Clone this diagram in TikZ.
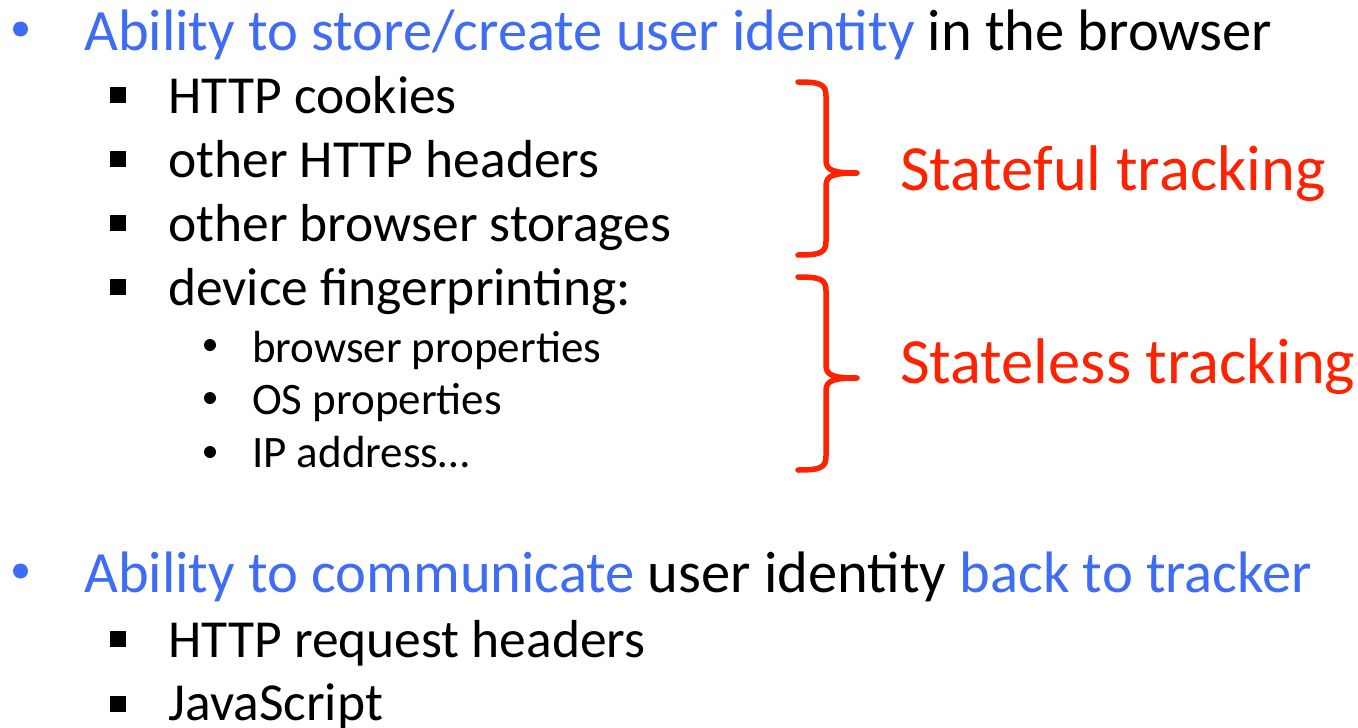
\documentclass[tikz,border=0pt]{standalone}
\usepackage{fontspec}
\setmainfont{Carlito}
\definecolor{hlblue}{HTML}{3F6CF4}
\definecolor{bracered}{HTML}{FF2200}
\tikzset{
  lvlone/.style={anchor=base west, inner sep=0pt, font=\fontsize{58.5}{64}\selectfont},
  lvltwo/.style={anchor=base west, inner sep=0pt, font=\fontsize{53.5}{58}\selectfont},
  lvlthree/.style={anchor=base west, inner sep=0pt, font=\fontsize{45}{50}\selectfont},
  tag/.style={anchor=base west, inner sep=0pt, text=bracered, font=\fontsize{64.5}{70}\selectfont},
  dotone/.style={circle, fill=hlblue, inner sep=0pt, minimum size=15pt},
  sqtwo/.style={rectangle, fill=black, inner sep=0pt, minimum size=16pt},
  dotthree/.style={circle, fill=black, inner sep=0pt, minimum size=12pt},
  brace/.style={draw=bracered, line width=5.5pt, line cap=round, line join=round}
}
\begin{document}
\begin{tikzpicture}[x=1pt, y=-1pt]
\useasboundingbox (0,0) rectangle (1358,728);

% first group: storing identity
\node[dotone] (b1) at (20.5,29) {};
\node[lvlone] (t1) at (84,50) {\textcolor{hlblue}{Ability to store/create user identity} in the browser};

\node[sqtwo] (s1) at (118,95) {};
\node[lvltwo] (cookies) at (168,113) {HTTP cookies};
\node[sqtwo] (s2) at (118,159) {};
\node[lvltwo] (headers) at (168,177) {other HTTP headers};
\node[sqtwo] (s3) at (118,223) {};
\node[lvltwo] (storages) at (168,241) {other browser storages};
\node[sqtwo] (s4) at (118,287) {};
\node[lvltwo] (finger) at (168,305) {device fingerprinting:};

\node[dotthree] (d1) at (210,345) {};
\node[lvlthree] (bprop) at (252,362) {browser properties};
\node[dotthree] (d2) at (210,398) {};
\node[lvlthree] (osprop) at (252,414) {OS properties};
\node[dotthree] (d3) at (210,452) {};
\node[lvlthree] (ipaddr) at (252,467) {IP address…};

% braces and their labels
\coordinate (fultop) at (798,82);
\coordinate (fultip) at (857,173);
\coordinate (fulbot) at (798,255);
\draw[brace] (fultop) .. controls (820,82) and (826,84) .. (826,96)
  -- (826,160) .. controls (826,170) and (832,173) .. (fultip)
  .. controls (832,173) and (826,176) .. (826,186)
  -- (826,241) .. controls (826,253) and (820,255) .. (fulbot);
\node[tag] (stateful) at (900,190) {Stateful tracking};

\coordinate (lesstop) at (798,277);
\coordinate (lesstip) at (857,378);
\coordinate (lessbot) at (798,470);
\draw[brace] (lesstop) .. controls (820,277) and (826,279) .. (826,291)
  -- (826,365) .. controls (826,375) and (832,378) .. (lesstip)
  .. controls (832,378) and (826,381) .. (826,391)
  -- (826,456) .. controls (826,468) and (820,470) .. (lessbot);
\node[tag] (stateless) at (900,383) {Stateless tracking};

% second group: communicating identity
\node[dotone] (b2) at (20.5,571) {};
\node[lvlone] (t2) at (84,592) {\textcolor{hlblue}{Ability to communicate} user identity \textcolor{hlblue}{back to tracker}};

\node[sqtwo] (s5) at (118,639) {};
\node[lvltwo] (reqhead) at (168,657) {HTTP request headers};
\node[sqtwo] (s6) at (118,704) {};
\node[lvltwo] (js) at (168,720) {JavaScript};
\end{tikzpicture}
\end{document}
